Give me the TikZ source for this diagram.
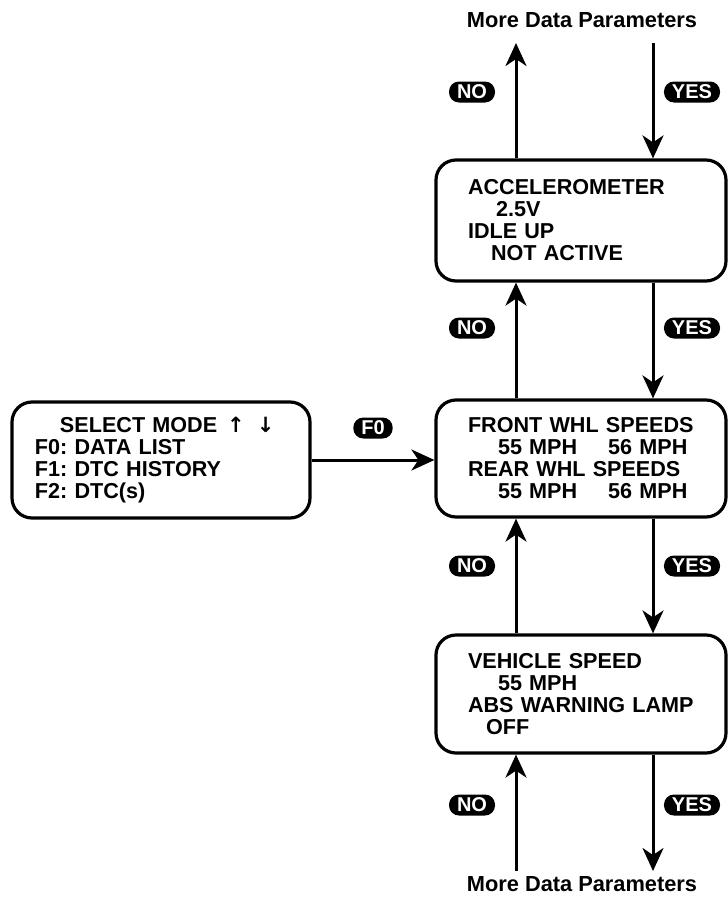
\documentclass[tikz,border=0pt]{standalone}
\usepackage{fontspec}
\setmainfont{Liberation Sans}
\newfontfamily\arrowfont{DejaVu Sans}
\usetikzlibrary{calc, positioning}
\usetikzlibrary{arrows.meta}
\frenchspacing

\begin{document}
\begin{tikzpicture}[x=1bp, y=-1bp,
    panel/.style={draw, line width=3.2bp, rounded corners=20bp, align=left,
        inner sep=0pt, minimum width=290bp, text width=226bp,
        font=\fontsize{21.6bp}{22bp}\selectfont\bfseries},
    pill/.style={fill=black, text=white, rounded corners=10bp,
        minimum height=21bp, inner xsep=8bp, inner ysep=0pt,
        font=\fontsize{20bp}{20bp}\selectfont\bfseries},
    caption/.style={font=\fontsize{21.8bp}{22bp}\selectfont\bfseries},
    flow/.style={line width=3bp,
        -{Stealth[length=23bp, width=21bp, inset=7bp]}}]
\useasboundingbox (0,0) rectangle (728,899);

\coordinate (colL) at (516,0);
\coordinate (colR) at (653,0);

\node[panel, minimum height=121bp] (accel) at (581,220.5)
    {ACCELEROMETER\\\hspace*{28bp}2.5V\\IDLE UP\\\hspace*{23bp}NOT ACTIVE};
\node[panel, minimum height=117bp] (front) at (581,458.5)
    {\mbox{FRONT WHL SPEEDS}\\\hspace*{30bp}\mbox{55 MPH\hspace{31bp}56 MPH}\\\mbox{REAR WHL SPEEDS}\\\hspace*{30bp}\mbox{55 MPH\hspace{31bp}56 MPH}};
\node[panel, minimum height=118bp] (vehicle) at (581,694)
    {VEHICLE SPEED\\\hspace*{30bp}55 MPH\\\mbox{ABS WARNING LAMP}\\\hspace*{18bp}OFF};
\node[panel, minimum width=298bp, minimum height=116bp, text width=252bp] (select) at (161,460)
    {\hspace*{25bp}SELECT MODE\hspace{10bp}{\arrowfont\fontsize{21bp}{21bp}\selectfont ↑}\hspace{12bp}{\arrowfont\fontsize{21bp}{21bp}\selectfont ↓}\\F0: DATA LIST\\F1: DTC HISTORY\\F2: DTC(s)};

\node[caption] (moretop) at (582,20) {More Data Parameters};
\node[caption] (morebot) at (582,884) {More Data Parameters};
\coordinate (topL) at (516,43);
\coordinate (topR) at (653,43);
\coordinate (botL) at (516,871);
\coordinate (botR) at (653,871);

\draw[flow] (accel.north -| colL) -- (topL);
\draw[flow] (topR) -- (accel.north -| colR);
\draw[flow] (front.north -| colL) -- (accel.south -| colL);
\draw[flow] (accel.south -| colR) -- (front.north -| colR);
\draw[flow] (vehicle.north -| colL) -- (front.south -| colL);
\draw[flow] (front.south -| colR) -- (vehicle.north -| colR);
\draw[flow] (botL) -- (vehicle.south -| colL);
\draw[flow] (vehicle.south -| colR) -- (botR);
\draw[flow] (select.east) -- (select.east -| front.west);

\node[pill] (fkey) at (373,428) {F0};
\foreach \y in {92,328,566,805} {
    \node[pill] (no\y) at (472,\y) {NO};
    \node[pill] (yes\y) at (692,\y) {YES};
}
\end{tikzpicture}
\end{document}
